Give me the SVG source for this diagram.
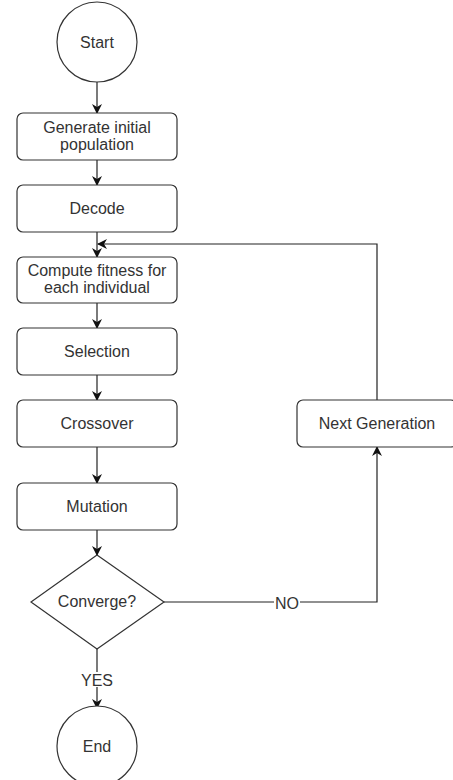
<svg xmlns="http://www.w3.org/2000/svg" width="453" height="780" viewBox="0 0 453 780">
<style>
.n{fill:#fff;stroke:#333;stroke-width:1.2}
.t{font-family:"Liberation Sans",Arial,sans-serif;font-size:16px;fill:#333;text-anchor:middle}
.e{fill:none;stroke:#222;stroke-width:1.2}
</style>
<defs>
<marker id="a" viewBox="0 0 10 10" refX="9" refY="5" markerWidth="10" markerHeight="10" markerUnits="userSpaceOnUse" orient="auto">
<path d="M0,0 L10,5 L0,10 L3,5 Z" fill="#111"/>
</marker>
</defs>
<rect width="453" height="780" fill="#fff"/>
<g id="connectors">
<path class="e" d="M97,82 V113" marker-end="url(#a)"/>
<path class="e" d="M97,160 V185" marker-end="url(#a)"/>
<path class="e" d="M97,232 V257" marker-end="url(#a)"/>
<path class="e" d="M377,400 V244 H98" marker-end="url(#a)"/>
<path class="e" d="M97,303 V328" marker-end="url(#a)"/>
<path class="e" d="M97,375 V400" marker-end="url(#a)"/>
<path class="e" d="M97,447 V483" marker-end="url(#a)"/>
<path class="e" d="M97,530 V555" marker-end="url(#a)"/>
<path class="e" d="M164,602 H377 V447" marker-end="url(#a)"/>
<path class="e" d="M97,649 V708" marker-end="url(#a)"/>
<rect x="274" y="596" width="26" height="14" fill="#fff"/>
<text class="t" x="287" y="609">NO</text>
<rect x="80" y="672" width="34" height="15" fill="#fff"/>
<text class="t" x="97" y="686">YES</text>
</g>
<g id="start"><circle class="n" cx="97" cy="42" r="40"/><text class="t" x="97" y="48">Start</text></g>
<g id="generate"><rect class="n" x="17" y="113" width="160" height="47" rx="6"/><text class="t" x="97" y="133">Generate initial</text><text class="t" x="97" y="150">population</text></g>
<g id="decode"><rect class="n" x="17" y="185" width="160" height="47" rx="6"/><text class="t" x="97" y="214">Decode</text></g>
<g id="compute"><rect class="n" x="17" y="257" width="160" height="46" rx="6"/><text class="t" x="97" y="276">Compute fitness for</text><text class="t" x="97" y="293">each individual</text></g>
<g id="selection"><rect class="n" x="17" y="328" width="160" height="47" rx="6"/><text class="t" x="97" y="357">Selection</text></g>
<g id="crossover"><rect class="n" x="17" y="400" width="160" height="47" rx="6"/><text class="t" x="97" y="429">Crossover</text></g>
<g id="mutation"><rect class="n" x="17" y="483" width="160" height="47" rx="6"/><text class="t" x="97" y="512">Mutation</text></g>
<g id="converge"><polygon class="n" points="97,555 164,602 97,649 31,602"/><text class="t" x="97" y="607">Converge?</text></g>
<g id="next"><rect class="n" x="297" y="400" width="160" height="47" rx="6"/><text class="t" x="377" y="429">Next Generation</text></g>
<g id="end"><circle class="n" cx="97" cy="746" r="40"/><text class="t" x="97" y="752">End</text></g>
</svg>
